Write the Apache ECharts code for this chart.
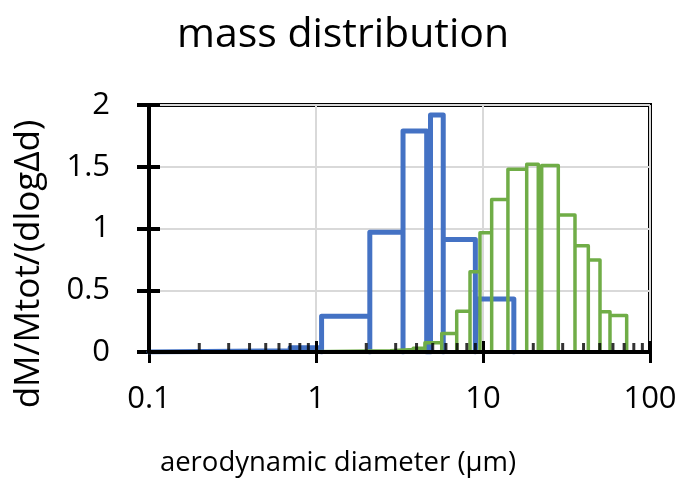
<!DOCTYPE html>
<html>
<head>
<meta charset="utf-8">
<title>mass distribution</title>
<script src="https://cdn.jsdelivr.net/npm/echarts@6/dist/echarts.min.js"></script>
<style>
  html, body { margin: 0; padding: 0; background: #fff; }
  #chart { width: 682px; height: 479px; }
</style>
</head>
<body>
<div id="chart"></div>
<script>
/* ------------------------------------------------------------
 * Data: size bins (lower edge, upper edge, dM/Mtot/(dlogΔd))
 * ------------------------------------------------------------ */
var blueLo  = [0.1,  0.7,   1.08, 2.1,  3.32, 4.85, 5.78, 9.2];
var blueHi  = [0.7,  1.08,  2.1,  3.32, 4.6,  5.78, 9.0,  15.3];
var blueVal = [0.01, 0.035, 0.29, 0.97, 1.79, 1.92, 0.91, 0.43];

var greenLo  = [0.7,  2.78, 3.82, 4.49,  5.66, 6.96, 8.36, 9.59,  11.27, 14.1, 18.27, 22.46, 28.24, 35.55, 42.72, 50.19, 57.6];
var greenHi  = [2.78, 3.82, 4.49, 5.66,  6.96, 8.36, 9.59, 11.27, 14.1,  18.27, 21.43, 28.24, 35.55, 42.72, 50.19, 57.6, 72.5];
var greenVal = [0.01, 0.02, 0.03, 0.075, 0.15, 0.33, 0.65, 0.965, 1.235, 1.48, 1.52,  1.51,  1.11,  0.86,  0.745, 0.325, 0.295];

var xDecades = [0.1, 1, 10];
var minorSteps = [2, 3, 4, 5, 6, 7, 8, 9];

var font = '"Open Sans", "Noto Sans", sans-serif';
var ink = '#000';
var gridGray = '#d9d9d9';

// each bin becomes an outlined box: up, across, down
function binOutline(lo, hi, val) {
  var pts = [];
  for (var i = 0; i < lo.length; i++) {
    pts.push([lo[i], 0], [lo[i], val[i]], [hi[i], val[i]], [hi[i], 0]);
  }
  return pts;
}

// minor ticks at 2..9 of every decade (drawn inside the plot)
var minorTicks = [];
xDecades.forEach(function (d) {
  minorSteps.forEach(function (s) { minorTicks.push([+(d * s).toPrecision(3), 0]); });
});

var chart = echarts.init(document.getElementById('chart'), null, { renderer: 'canvas' });

chart.setOption({
  animation: false,
  title: {
    text: 'mass distribution',
    left: 338,
    top: 10,
    textAlign: 'center',
    textStyle: { color: ink, fontFamily: font, fontSize: 41, fontWeight: 'normal' }
  },
  grid: {
    left: 149, right: 32, top: 105, bottom: 127,
    show: true, borderColor: ink, borderWidth: 4, backgroundColor: 'transparent'
  },
  xAxis: [
    {
      type: 'log', logBase: 10, min: 0.1, max: 100, position: 'bottom',
      axisLine: { show: false },
      axisTick: { show: true, inside: false, length: 11, lineStyle: { color: ink, width: 3 } },
      axisLabel: {
        color: ink, fontFamily: font, fontSize: 31, margin: 32,
        formatter: function (v) { return String(+v.toPrecision(3)); }
      },
      splitLine: { show: true, lineStyle: { color: gridGray, width: 2 } }
    },
    {
      type: 'log', logBase: 10, min: 0.1, max: 100, position: 'bottom', z: 10,
      axisLine: { show: true, onZero: false, lineStyle: { color: ink, width: 4 } },
      axisTick: { show: true, inside: true, length: 11, lineStyle: { color: ink, width: 3 } },
      axisLabel: { show: false },
      splitLine: { show: false }
    }
  ],
  yAxis: [
    {
      type: 'value', min: 0, max: 2, interval: 0.5, position: 'left',
      axisLine: { show: false },
      axisTick: { show: true, inside: false, length: 12, lineStyle: { color: ink, width: 4 } },
      axisLabel: { color: ink, fontFamily: font, fontSize: 31, margin: 39 },
      splitLine: { show: true, lineStyle: { color: gridGray, width: 2 } }
    },
    {
      type: 'value', min: 0, max: 2, interval: 0.5, position: 'left', z: 10,
      axisLine: { show: true, onZero: false, lineStyle: { color: ink, width: 4 } },
      axisTick: { show: true, inside: true, length: 11, lineStyle: { color: ink, width: 4 } },
      axisLabel: { show: false },
      splitLine: { show: false }
    }
  ],
  graphic: [
    {
      type: 'text', x: 29, y: 264, rotation: Math.PI / 2,
      style: {
        text: 'dM/Mtot/(dlogΔd)', fill: ink,
        font: '35px "Open Sans", "Noto Sans", sans-serif',
        align: 'center', verticalAlign: 'middle'
      }
    },
    {
      type: 'text', x: 338, y: 463,
      style: {
        text: 'aerodynamic diameter (µm)', fill: ink,
        font: '27.5px "Open Sans", "Noto Sans", sans-serif',
        align: 'center', verticalAlign: 'middle'
      }
    }
  ],
  series: [
    {
      name: 'blue', type: 'line', xAxisIndex: 0, yAxisIndex: 0,
      data: binOutline(blueLo, blueHi, blueVal),
      showSymbol: false, silent: true,
      lineStyle: { color: '#4472C4', width: 5, join: 'round', cap: 'round' }
    },
    {
      name: 'green', type: 'line', xAxisIndex: 0, yAxisIndex: 0,
      data: binOutline(greenLo, greenHi, greenVal),
      showSymbol: false, silent: true,
      lineStyle: { color: '#70AD47', width: 3.5, join: 'round', cap: 'round' }
    },
    {
      name: 'minor ticks', type: 'scatter', xAxisIndex: 0, yAxisIndex: 0,
      data: minorTicks, z: 11, silent: true,
      symbol: 'rect', symbolSize: [3, 9], symbolOffset: [0, -4.5],
      itemStyle: { color: ink }
    }
  ]
});
</script>
</body>
</html>
